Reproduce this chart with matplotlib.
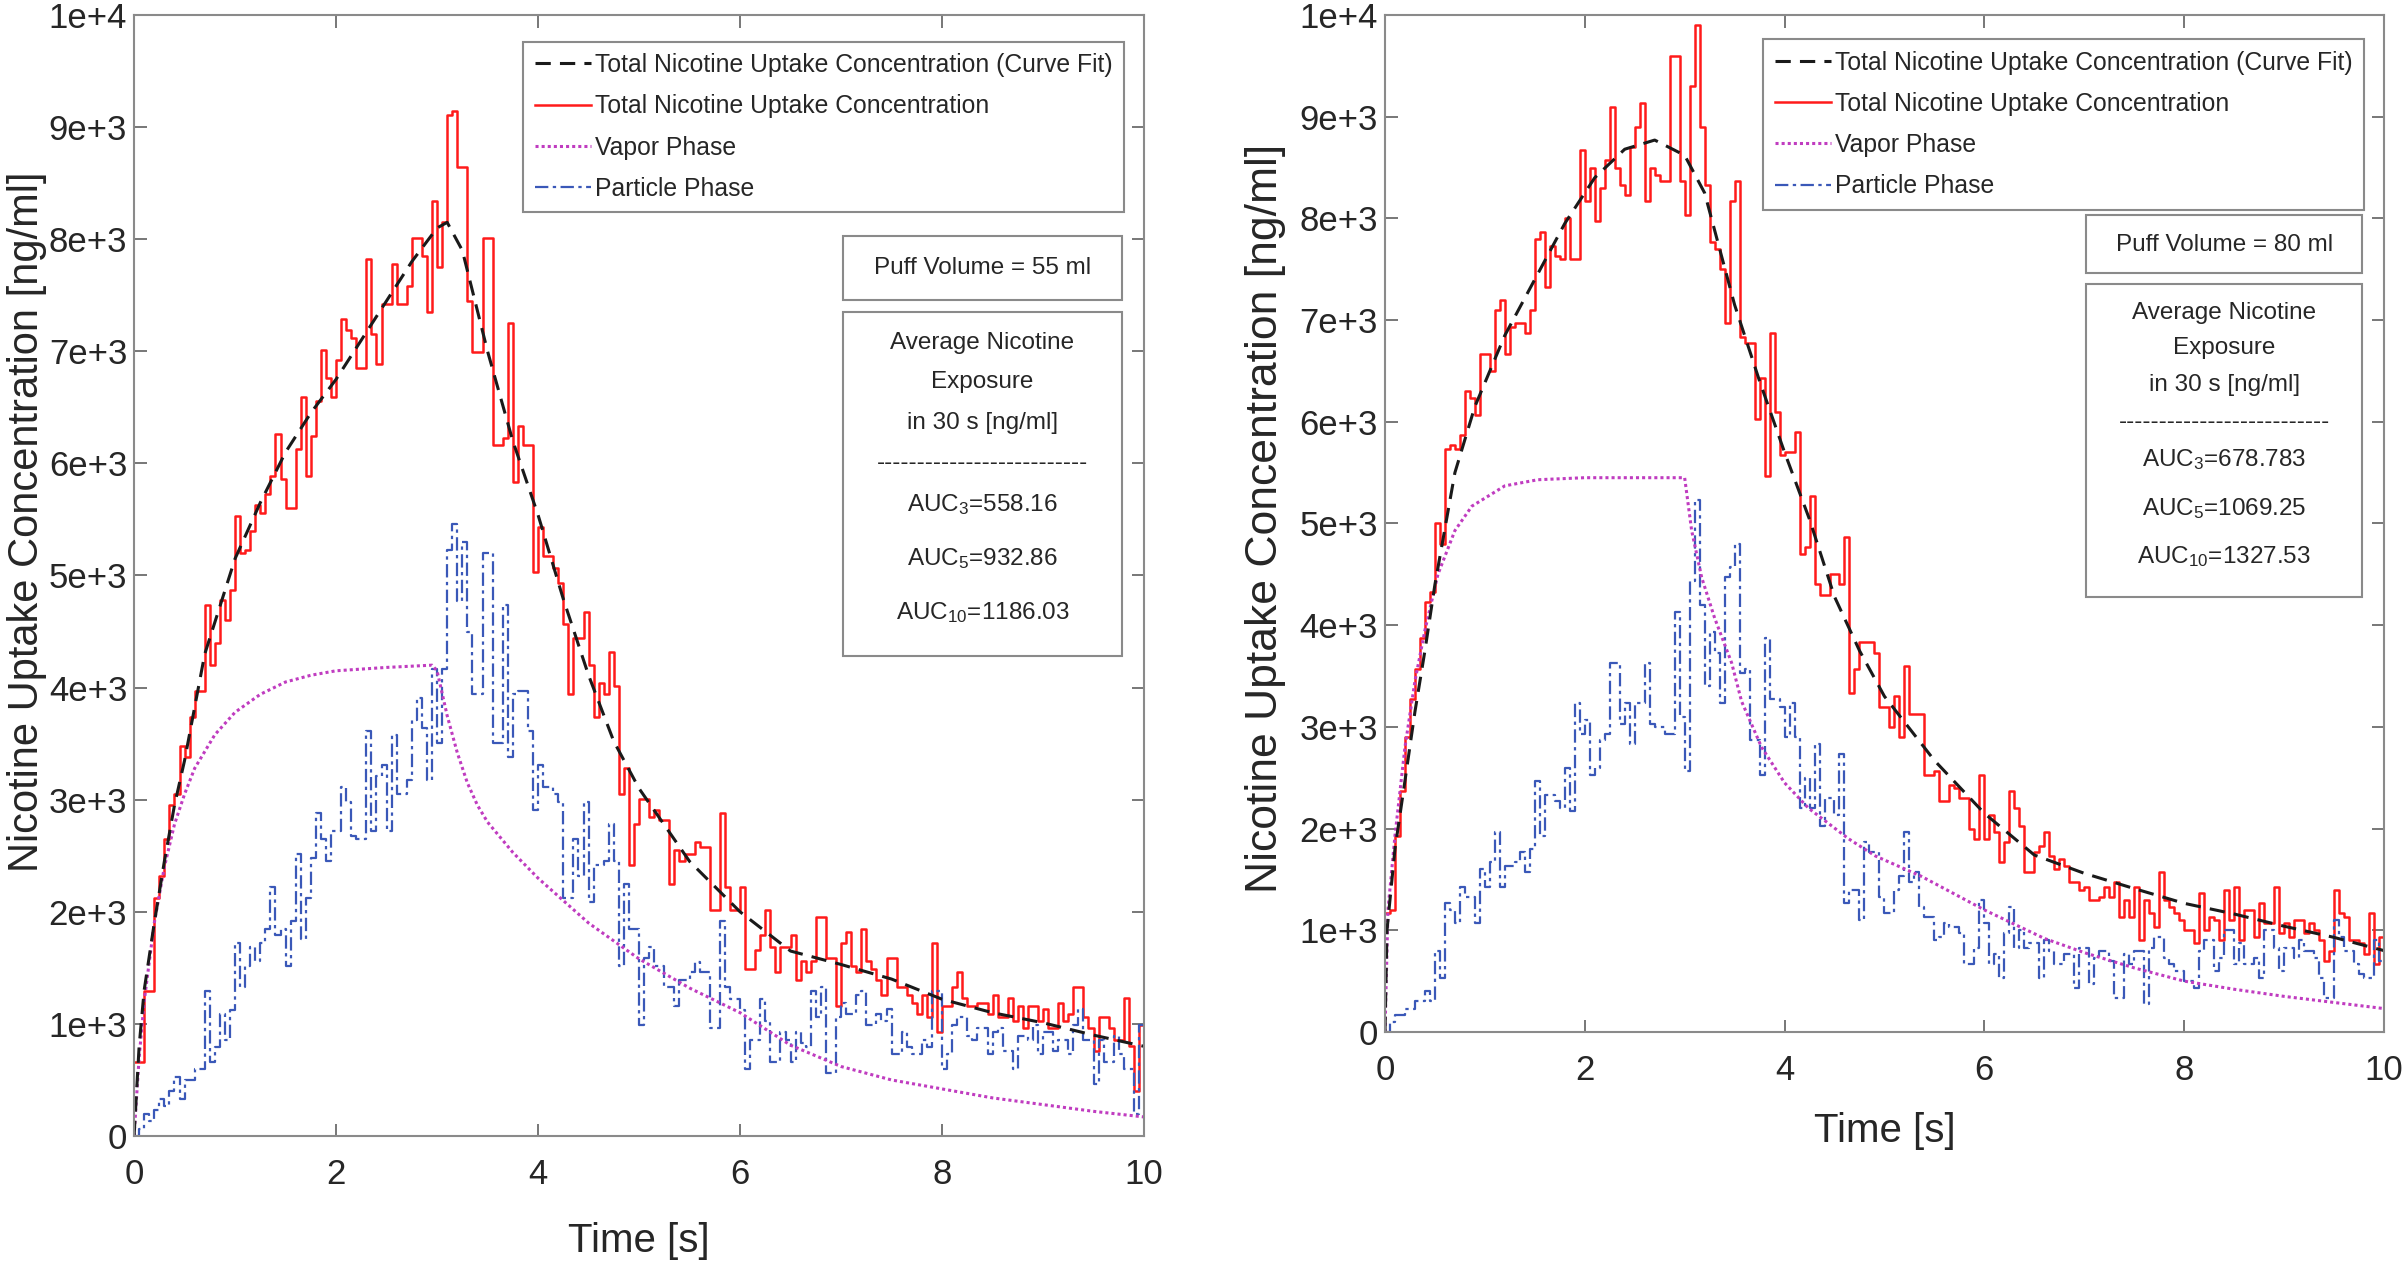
import numpy as np
import matplotlib.pyplot as plt
from matplotlib.patches import Rectangle

plt.rcParams['font.family'] = ['Liberation Sans', 'DejaVu Sans']
plt.rcParams['mathtext.default'] = 'regular'

# step series sampled every 0.05 s over 0..10 s (200 steps)
left_total = [660, 660, 1290, 1290, 2120, 2320, 2650, 2950, 3050, 3480, 3380, 3740, 3970, 3970, 4740, 4200, 4400, 4780, 4600, 4870,
              5530, 5200, 5230, 5400, 5630, 5560, 5730, 5890, 6260, 5860, 5600, 5600, 6130, 6590, 5890, 6240, 6560, 7010, 6760, 6590,
              6920, 7290, 7190, 7120, 6850, 6850, 7820, 7150, 6890, 7420, 7420, 7780, 7420, 7420, 7580, 8010, 8010, 7850, 7350, 8340,
              7750, 8150, 9110, 9140, 8640, 8640, 7450, 6990, 6990, 8010, 8010, 6160, 6160, 6230, 7250, 5830, 6330, 6160, 6160, 5030,
              5430, 5170, 5170, 5070, 4930, 4570, 3940, 4440, 4440, 4670, 4200, 3740, 4040, 3940, 4320, 4010, 3050, 3280, 2420, 2780,
              3010, 3010, 2850, 2910, 2820, 2820, 2250, 2550, 2450, 2520, 2520, 2620, 2580, 2580, 2020, 2020, 2880, 2220, 2020, 2020,
              2220, 1490, 1490, 1660, 1790, 2020, 1690, 1460, 1690, 1690, 1790, 1390, 1560, 1460, 1560, 1950, 1950, 1590, 1590, 1160,
              1720, 1820, 1520, 1460, 1850, 1560, 1490, 1390, 1260, 1590, 1590, 1330, 1330, 1260, 1190, 1090, 1260, 1060, 1720, 930,
              1160, 1160, 1330, 1460, 1230, 1160, 1160, 1190, 1190, 1090, 1260, 1060, 1060, 1230, 1030, 1160, 960, 1160, 1160, 1030,
              1130, 960, 960, 1190, 1030, 1090, 1330, 1330, 1060, 960, 760, 1060, 1060, 960, 860, 860, 1230, 800, 400, 990]
left_particle = [0, 66, 200, 130, 230, 330, 265, 400, 530, 330, 500, 500, 600, 600, 1290, 660, 795, 1090, 860, 1125,
                 1720, 1325, 1520, 1690, 1560, 1720, 1850, 2220, 1790, 1850, 1520, 1920, 2520, 1760, 2120, 2480, 2880, 2650, 2450, 2720,
                 2720, 3110, 2980, 2680, 2650, 2650, 3610, 2720, 3210, 3310, 2720, 3580, 3050, 3050, 3180, 3710, 3910, 3640, 3180, 4170,
                 3510, 4170, 5230, 5460, 4770, 5300, 4500, 3940, 3940, 5200, 5200, 3510, 3510, 4735, 3380, 3940, 3970, 3970, 3610, 2910,
                 3310, 3110, 3110, 3050, 2980, 2120, 2120, 2650, 2320, 2980, 2090, 2420, 2420, 2450, 2780, 2450, 1520, 2250, 1850, 1850,
                 990, 1590, 1690, 1520, 1520, 1325, 1325, 1160, 1390, 1390, 1460, 1556, 1460, 1460, 960, 960, 1920, 1325, 1225, 1225,
                 1125, 600, 860, 860, 1225, 1030, 660, 660, 930, 860, 660, 930, 830, 795, 1290, 1060, 1325, 560, 560, 1060,
                 1190, 1090, 1090, 1260, 1290, 990, 990, 1090, 1030, 1130, 730, 730, 930, 795, 730, 730, 860, 795, 1290, 1290,
                 600, 730, 990, 1060, 1060, 895, 860, 960, 960, 730, 930, 960, 760, 760, 600, 895, 895, 860, 990, 730,
                 930, 930, 760, 860, 860, 730, 990, 1130, 860, 860, 460, 860, 660, 660, 895, 730, 600, 600, 200, 990]
right_total = [1170, 1200, 1930, 2370, 2900, 3270, 3570, 3870, 4230, 4330, 5000, 4800, 5730, 5770, 5730, 5870, 6300, 6230, 6070, 6670,
               6670, 6500, 7100, 7200, 6670, 6930, 6970, 6970, 6870, 7100, 7800, 7870, 7330, 7730, 7630, 7600, 8000, 7600, 7600, 8670,
               8170, 8500, 7970, 8300, 8570, 9100, 8500, 8330, 8230, 8700, 8900, 9130, 8170, 8500, 8430, 8370, 8370, 9600, 9600, 8370,
               8030, 9300, 9900, 8900, 8330, 7770, 7700, 7500, 6970, 8170, 8370, 6830, 6770, 6770, 6030, 6430, 5470, 6870, 6100, 5670,
               5700, 5700, 5900, 4700, 4770, 5270, 4400, 4300, 4300, 4500, 4500, 4400, 4870, 3330, 3570, 3830, 3830, 3830, 3730, 3200,
               3200, 3000, 3300, 2900, 3600, 3130, 3130, 3130, 2530, 2530, 2570, 2270, 2270, 2430, 2400, 2300, 2300, 2000, 1900, 2530,
               1900, 2130, 1970, 1670, 1870, 2370, 2200, 2030, 1570, 1570, 1770, 1830, 1970, 1730, 1600, 1700, 1630, 1470, 1470, 1400,
               1430, 1300, 1300, 1330, 1430, 1330, 1470, 1130, 1300, 1130, 1430, 900, 1300, 1170, 1030, 1570, 1300, 1230, 1170, 1100,
               1000, 1000, 870, 1370, 1000, 1130, 1100, 900, 1400, 1100, 1430, 900, 1200, 1200, 930, 1270, 1070, 1070, 1430, 970,
               1070, 930, 1100, 1100, 970, 1070, 1000, 900, 700, 800, 1400, 1170, 1130, 900, 900, 870, 770, 1170, 670, 930]
right_particle = [0, 100, 170, 170, 230, 230, 300, 300, 400, 300, 800, 530, 1270, 1200, 1070, 1430, 1330, 1330, 1070, 1600,
                  1430, 1670, 1970, 1430, 1630, 1630, 1670, 1770, 1570, 1800, 2470, 1930, 2330, 2330, 2270, 2200, 2600, 2170, 3230, 2930,
                  3070, 2530, 2600, 2870, 2930, 3630, 3630, 3030, 3230, 2830, 3230, 3230, 3630, 3030, 3000, 3000, 2930, 2930, 4130, 3100,
                  2570, 4430, 5230, 4200, 3400, 3930, 3730, 3230, 4470, 4570, 4800, 3530, 3570, 2870, 2870, 2530, 3870, 3270, 3270, 3200,
                  2900, 3230, 2900, 2200, 2500, 2200, 2830, 2030, 2300, 2300, 2130, 2730, 1270, 1400, 1400, 1100, 1870, 1770, 1770, 1330,
                  1170, 1170, 1400, 1530, 1970, 1470, 1570, 1230, 1130, 1130, 900, 930, 1070, 1030, 1030, 970, 670, 670, 830, 1300,
                  1070, 670, 770, 530, 970, 1230, 830, 1000, 830, 870, 870, 530, 900, 800, 670, 670, 770, 770, 430, 830,
                  830, 470, 730, 800, 800, 700, 330, 330, 770, 670, 800, 800, 270, 830, 930, 930, 730, 670, 600, 600,
                  500, 500, 430, 800, 900, 900, 600, 730, 1000, 1000, 670, 870, 670, 670, 730, 530, 1000, 1000, 830, 600,
                  830, 830, 730, 900, 800, 800, 730, 530, 330, 330, 1100, 930, 800, 800, 670, 570, 530, 530, 900, 700]

# smooth curves (time, value)
left_fit_t = [0, 0.05, 0.1, 0.2, 0.3, 0.4, 0.5, 0.7, 1.0, 1.25, 1.5, 1.75, 2.0, 2.25, 2.5, 2.75, 3.0, 3.1, 3.25, 3.5,
              3.75, 4.0, 4.25, 4.5, 4.75, 5.0, 5.5, 6.0, 6.5, 7.0, 7.5, 8.0, 8.5, 9.0, 9.5, 10.0]
left_fit = [0, 800, 1300, 1900, 2450, 2950, 3350, 4300, 5150, 5650, 6100, 6450, 6750, 7100, 7450, 7800, 8100, 8150, 7900, 7000,
            6200, 5540, 4790, 4110, 3520, 3100, 2450, 2000, 1650, 1530, 1400, 1220, 1100, 1010, 900, 800]
left_vap_t = [0, 0.05, 0.1, 0.2, 0.3, 0.4, 0.5, 0.6, 0.8, 1.0, 1.25, 1.5, 1.75, 2.0, 2.5, 2.95, 3.0, 3.1, 3.2, 3.3,
              3.4, 3.5, 3.75, 4.0, 4.5, 5.0, 5.5, 6.0, 6.5, 7.0, 7.5, 8.0, 8.5, 9.0, 9.5, 10.0]
left_vap = [0, 700, 1200, 1900, 2400, 2780, 3050, 3280, 3580, 3780, 3940, 4050, 4110, 4150, 4180, 4200, 4150, 3750, 3420, 3150,
            2950, 2800, 2530, 2300, 1900, 1580, 1320, 1100, 810, 620, 500, 420, 340, 280, 220, 170]
right_fit_t = [0, 0.02, 0.1, 0.2, 0.3, 0.4, 0.5, 0.7, 0.9, 1.2, 1.5, 1.8, 2.1, 2.4, 2.7, 3.0, 3.2, 3.5, 3.75, 4.0,
               4.25, 4.5, 4.75, 5.0, 5.5, 6.0, 6.5, 7.0, 7.5, 8.0, 8.5, 9.0, 9.5, 10.0]
right_fit = [0, 1000, 1800, 2470, 3150, 3750, 4400, 5500, 6150, 6850, 7400, 7950, 8400, 8680, 8770, 8620, 8250, 7150, 6400, 5700,
             5040, 4280, 3750, 3300, 2670, 2150, 1740, 1560, 1410, 1265, 1160, 1040, 930, 800]
right_vap_t = [0, 0.03, 0.1, 0.2, 0.3, 0.4, 0.53, 0.7, 0.87, 1.2, 1.53, 2.0, 2.5, 3.0, 3.07, 3.17, 3.3, 3.47, 3.57, 3.77,
               4.0, 4.24, 4.64, 4.91, 5.37, 6.0, 6.6, 7.0, 7.5, 8.0, 8.5, 9.0, 9.5, 10.0]
right_vap = [0, 1200, 1930, 2800, 3450, 3950, 4500, 4930, 5170, 5370, 5430, 5450, 5450, 5450, 4930, 4470, 4070, 3630, 3250, 2800,
             2450, 2200, 1900, 1730, 1530, 1200, 920, 780, 630, 500, 420, 350, 290, 230]

x_ticks = [0, 2, 4, 6, 8, 10]
y_ticks = [0, 1000, 2000, 3000, 4000, 5000, 6000, 7000, 8000, 9000, 10000]
y_ticklabels = ['0', '1e+3', '2e+3', '3e+3', '4e+3', '5e+3', '6e+3', '7e+3', '8e+3', '9e+3', '1e+4']

legend_labels = ['Total Nicotine Uptake Concentration (Curve Fit)', 'Total Nicotine Uptake Concentration',
                 'Vapor Phase', 'Particle Phase']
auc_left = ['AUC$_{3}$=558.16', 'AUC$_{5}$=932.86', 'AUC$_{10}$=1186.03']
auc_right = ['AUC$_{3}$=678.783', 'AUC$_{5}$=1069.25', 'AUC$_{10}$=1327.53']

edges = np.linspace(0, 10, 201)
TXT = '#262626'


def draw_panel(ax, total, particle, fit_t, fit, vap_t, vap, puff, auc, ylab_size):
    h_tot, = ax.step(edges, np.append(total, total[-1]), where='post', color='#ff1a1a', lw=1.8)
    h_par, = ax.step(edges, np.append(particle, particle[-1]), where='post', color='#3a58b8', lw=1.6,
                     linestyle=(0, (6, 2, 1.5, 2)))
    h_vap, = ax.plot(vap_t, vap, color='#c03cc0', lw=2.2, linestyle=(0, (1, 1)))
    h_fit, = ax.plot(fit_t, fit, color='#1a1a1a', lw=2.2, linestyle=(0, (5, 3)))

    ax.set_xlim(0, 10)
    ax.set_ylim(0, 10000)
    ax.set_xticks(x_ticks)
    ax.set_xticklabels([str(v) for v in x_ticks])
    ax.set_yticks(y_ticks)
    ax.set_yticklabels(y_ticklabels)
    ax.tick_params(direction='in', length=9, width=1.2, colors='#606060', labelcolor=TXT,
                   labelsize=25, top=True, right=True)
    ax.tick_params(axis='x', pad=16)
    ax.tick_params(axis='y', pad=5)
    for s in ax.spines.values():
        s.set_color('#8a8a8a')
        s.set_linewidth(1.5)

    ax.set_xlabel('Time [s]', fontsize=29, color=TXT, va='top')
    ax.set_ylabel('Nicotine Uptake Concentration [ng/ml]', fontsize=ylab_size, color=TXT)

    leg = ax.legend([h_fit, h_tot, h_vap, h_par], legend_labels, loc='upper right',
                    bbox_to_anchor=(0.980, 0.976), borderaxespad=0, fontsize=17.8, frameon=True,
                    fancybox=False, framealpha=1, edgecolor='#8a8a8a', handlelength=2.3,
                    handletextpad=0.15, labelspacing=0.7, borderpad=0.45)
    leg.get_frame().set_linewidth(1.5)
    for t in leg.get_texts():
        t.set_color(TXT)

    # info boxes
    ax.add_patch(Rectangle((0.702, 0.746), 0.276, 0.057, transform=ax.transAxes, fill=False,
                           edgecolor='#8a8a8a', lw=1.5, zorder=5))
    ax.add_patch(Rectangle((0.702, 0.428), 0.276, 0.307, transform=ax.transAxes, fill=False,
                           edgecolor='#8a8a8a', lw=1.5, zorder=5))
    ax.text(0.84, 0.774, puff, transform=ax.transAxes, ha='center', va='center', fontsize=17.5, color=TXT)
    box_lines = ['Average Nicotine', 'Exposure', 'in 30 s [ng/ml]', '-' * 26] + auc
    box_y = [0.707, 0.673, 0.636, 0.600, 0.563, 0.515, 0.467]
    for txt, yy in zip(box_lines, box_y):
        ax.text(0.84, yy, txt, transform=ax.transAxes, ha='center', va='center', fontsize=17.5, color=TXT)


fig = plt.figure(figsize=(24.07, 12.69), dpi=100)
ax1 = fig.add_axes([0.0557, 0.1048, 0.4196, 0.8834])
ax2 = fig.add_axes([0.5754, 0.1868, 0.4150, 0.8014])

draw_panel(ax1, left_total, left_particle, left_fit_t, left_fit, left_vap_t, left_vap,
           'Puff Volume = 55 ml', auc_left, 30)
draw_panel(ax2, right_total, right_particle, right_fit_t, right_fit, right_vap_t, right_vap,
           'Puff Volume = 80 ml', auc_right, 32)
ax1.yaxis.set_label_coords(-0.086, 0.548)
ax2.yaxis.set_label_coords(-0.099, 0.505)
ax1.xaxis.set_label_coords(0.5, -0.077)
ax2.xaxis.set_label_coords(0.5, -0.079)

fig.savefig('out.png', dpi=100, facecolor='white')
